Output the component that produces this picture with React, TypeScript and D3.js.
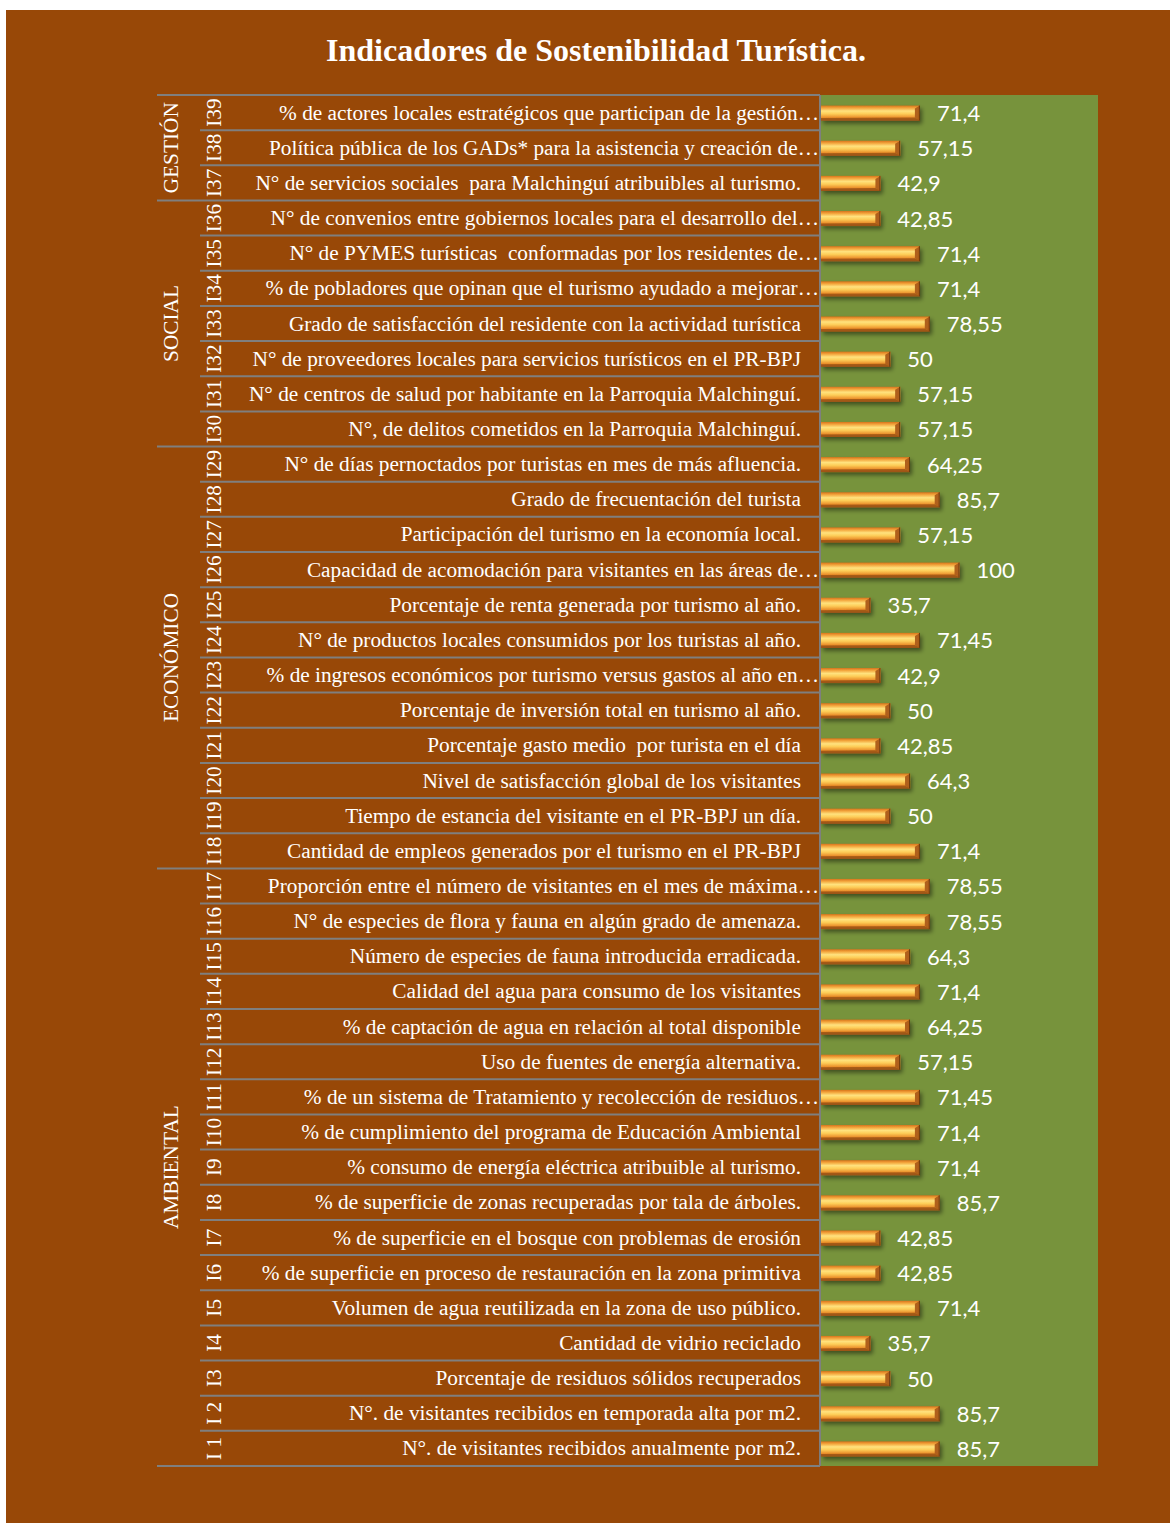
import React from "react";
import * as d3 from "d3";

const codes = ["I39","I38","I37","I36","I35","I34","I33","I32","I31","I30","I29","I28","I27","I26","I25","I24","I23","I22","I21","I20","I19","I18","I17","I16","I15","I14","I13","I12","I11","I10","I9","I8","I7","I6","I5","I4","I3","I 2","I 1"];
const labels = [
  "% de actores locales estratégicos que participan de la gestión…",
  "Política pública de los GADs* para la asistencia y creación de…",
  "N° de servicios sociales  para Malchinguí atribuibles al turismo.",
  "N° de convenios entre gobiernos locales para el desarrollo del…",
  "N° de PYMES turísticas  conformadas por los residentes de…",
  "% de pobladores que opinan que el turismo ayudado a mejorar…",
  "Grado de satisfacción del residente con la actividad turística",
  "N° de proveedores locales para servicios turísticos en el PR-BPJ",
  "N° de centros de salud por habitante en la Parroquia Malchinguí.",
  "N°, de delitos cometidos en la Parroquia Malchinguí.",
  "N° de días pernoctados por turistas en mes de más afluencia.",
  "Grado de frecuentación del turista",
  "Participación del turismo en la economía local.",
  "Capacidad de acomodación para visitantes en las áreas de…",
  "Porcentaje de renta generada por turismo al año.",
  "N° de productos locales consumidos por los turistas al año.",
  "% de ingresos económicos por turismo versus gastos al año en…",
  "Porcentaje de inversión total en turismo al año.",
  "Porcentaje gasto medio  por turista en el día",
  "Nivel de satisfacción global de los visitantes",
  "Tiempo de estancia del visitante en el PR-BPJ un día.",
  "Cantidad de empleos generados por el turismo en el PR-BPJ",
  "Proporción entre el número de visitantes en el mes de máxima…",
  "N° de especies de flora y fauna en algún grado de amenaza.",
  "Número de especies de fauna introducida erradicada.",
  "Calidad del agua para consumo de los visitantes",
  "% de captación de agua en relación al total disponible",
  "Uso de fuentes de energía alternativa.",
  "% de un sistema de Tratamiento y recolección de residuos…",
  "% de cumplimiento del programa de Educación Ambiental",
  "% consumo de energía eléctrica atribuible al turismo.",
  "% de superficie de zonas recuperadas por tala de árboles.",
  "% de superficie en el bosque con problemas de erosión",
  "% de superficie en proceso de restauración en la zona primitiva",
  "Volumen de agua reutilizada en la zona de uso público.",
  "Cantidad de vidrio reciclado",
  "Porcentaje de residuos sólidos recuperados",
  "N°. de visitantes recibidos en temporada alta por m2.",
  "N°. de visitantes recibidos anualmente por m2."
];
const values = [71.4,57.15,42.9,42.85,71.4,71.4,78.55,50,57.15,57.15,64.25,85.7,57.15,100,35.7,71.45,42.9,50,42.85,64.3,50,71.4,78.55,78.55,64.3,71.4,64.25,57.15,71.45,71.4,71.4,85.7,42.85,42.85,71.4,35.7,50,85.7,85.7];
const groupNames = ["GESTIÓN","SOCIAL","ECONÓMICO","AMBIENTAL"];
const groupSizes = [3,7,12,17];
const title = "Indicadores de Sostenibilidad Turística.";

export default function App() {
  const W = 1170, H = 1523;
  const plotL = 820, plotR = 1098, plotT = 95, plotB = 1466;
  const x = d3.scaleLinear().domain([0, 200]).range([plotL + 1, plotR]);
  const y = d3.scaleBand<number>().domain(d3.range(codes.length)).range([plotT, plotB]).padding(0);
  const bw = y.bandwidth();
  const barH = 15;
  const grid = "#7f7f7f";
  const serif = "'Liberation Serif', 'Times New Roman', serif";
  const fs = 21.3;
  const starts: number[] = [];
  let acc = 0;
  groupSizes.forEach((s) => { starts.push(acc); acc += s; });

  return (
    <svg width={W} height={H} style={{ position: "absolute", left: 0, top: 0 }}>
      <defs>
        <linearGradient id="barG" x1="0" y1="0" x2="0" y2="1">
          <stop offset="0" stopColor="#d8741c" />
          <stop offset="0.16" stopColor="#f3a53c" />
          <stop offset="0.36" stopColor="#ffe27e" />
          <stop offset="0.55" stopColor="#fdcd58" />
          <stop offset="0.8" stopColor="#ea8e2a" />
          <stop offset="1" stopColor="#a5561a" />
        </linearGradient>
        <filter id="sh" x="-10%" y="-50%" width="130%" height="250%">
          <feDropShadow dx="2" dy="3" stdDeviation="2" floodColor="#000" floodOpacity="0.45" />
        </filter>
      </defs>
      <rect x={6} y={10} width={W - 6} height={H - 10} fill="#984807" />
      <rect x={plotL} y={plotT} width={plotR - plotL} height={plotB - plotT} fill="#77933c" />
      <text x={596} y={61} textAnchor="middle" fill="#fff" fontFamily={serif} fontWeight="bold" fontSize={32}>{title}</text>

      {d3.range(codes.length + 1).map((i) => {
        const yy = i === codes.length ? plotB : (y(i) as number);
        const isGroup = i === 0 || i === codes.length || starts.includes(i);
        return <line key={"g" + i} x1={isGroup ? 157 : 200} x2={plotL} y1={yy} y2={yy} stroke={grid} strokeWidth={2} />;
      })}
      <line x1={plotL} x2={plotL} y1={plotT} y2={plotB} stroke={grid} strokeWidth={2} />

      {groupNames.map((g, gi) => {
        const top = y(starts[gi]) as number;
        const bot = top + groupSizes[gi] * bw;
        const cy = (top + bot) / 2;
        return (
          <text key={g} transform={`translate(178,${cy}) rotate(-90)`} textAnchor="middle" fill="#fff" fontFamily={serif} fontSize={fs}>{g}</text>
        );
      })}

      {codes.map((c, i) => {
        const cy = (y(i) as number) + bw / 2;
        const v = values[i];
        const truncated = labels[i].endsWith("…");
        const x0 = x(0), x1 = x(v);
        const by = cy - barH / 2 + 0.5;
        return (
          <g key={c}>
            <text transform={`translate(221,${cy}) rotate(-90)`} textAnchor="middle" fill="#fff" fontFamily={serif} fontSize={fs} style={{ whiteSpace: "pre" }}>{c}</text>
            <text x={truncated ? plotL - 1 : 801} y={cy + 7} textAnchor="end" fill="#fff" fontFamily={serif} fontSize={fs} style={{ whiteSpace: "pre" }}>{labels[i]}</text>
            <g filter="url(#sh)">
              <rect x={x0} y={by} width={x1 - x0} height={barH} fill="url(#barG)" />
              <polygon points={`${x1 - 5},${by + 3} ${x1},${by} ${x1},${by + barH} ${x1 - 5},${by + barH - 3}`} fill="#b0601a" />
              <polygon points={`${x1 - 5},${by + barH - 3} ${x1},${by + barH} ${x0},${by + barH} ${x0},${by + barH - 2.5}`} fill="#9a5214" opacity={0.8} />
              <line x1={x1 - 0.5} x2={x1 - 0.5} y1={by} y2={by + barH} stroke="#6b3a10" strokeWidth={1} />
            </g>
            <text x={x1 + 17} y={cy + 8.5} fill="#fff" fontFamily="Lato, 'Open Sans', sans-serif" fontSize={22}>{String(v).replace(".", ",")}</text>
          </g>
        );
      })}
    </svg>
  );
}
